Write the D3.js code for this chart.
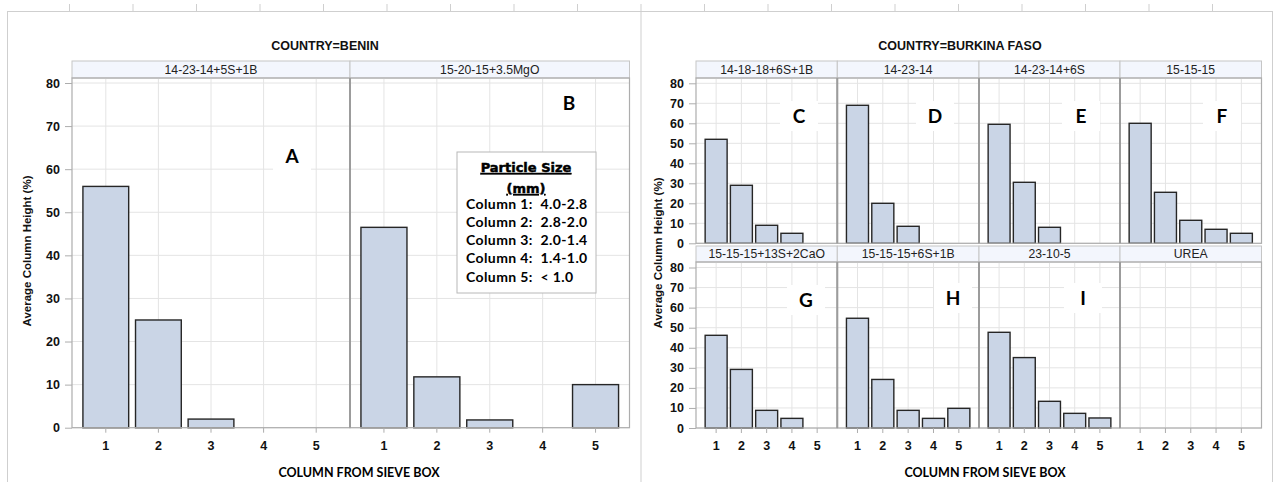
<!DOCTYPE html>
<html>
<head>
<meta charset="utf-8">
<script src="https://cdn.jsdelivr.net/npm/d3@7"></script>
<style>
  html, body { margin: 0; padding: 0; background: #ffffff; }
  svg { display: block; }
  .sas { font-family: "Liberation Sans", Arial, sans-serif; }
  .cal { font-family: Lato, "Open Sans", sans-serif; }
</style>
</head>
<body>
<svg id="chart" width="1274" height="482"></svg>
<script>
// Sieve-box columns (x categories) and the y ticks shared by all facets
const columns = ["1", "2", "3", "4", "5"];
const yTicks = [0, 10, 20, 30, 40, 50, 60, 70, 80];

// Benin: formulations and average column height (%) per sieve column
const beninFormulas = ["14-23-14+5S+1B", "15-20-15+3.5MgO"];
const beninLetters = ["A", "B"];
const beninValues = [
  [56, 25, 2, null, null],
  [46.5, 11.8, 1.8, null, 10]
];

// Burkina Faso: formulations and average column height (%) per sieve column
const burkinaFormulas = ["14-18-18+6S+1B", "14-23-14", "14-23-14+6S", "15-15-15",
                         "15-15-15+13S+2CaO", "15-15-15+6S+1B", "23-10-5", "UREA"];
const burkinaLetters = ["C", "D", "E", "F", "G", "H", "I", ""];
const burkinaValues = [
  [52, 29, 9, 5, null],
  [69, 20, 8.5, null, null],
  [59.5, 30.5, 8, null, null],
  [60, 25.5, 11.5, 7, 5],
  [46.2, 29.2, 8.8, 4.8, null],
  [54.7, 24.2, 8.8, 4.8, 9.8],
  [47.7, 35.1, 13.3, 7.3, 5],
  [null, null, null, null, null]
];

// Particle size key
const legendTitle = ["Particle Size", "(mm)"];
const legendLines = ["Column 1:  4.0-2.8", "Column 2:  2.8-2.0", "Column 3:  2.0-1.4",
                     "Column 4:  1.4-1.0", "Column 5:  < 1.0"];

const svg = d3.select("#chart");

const C = {
  bar: "#cad5e6",
  barStroke: "#262626",
  grid: "#e4e4e4",
  frame: "#adadad",
  divider: "#9c9c9c",
  headFill: "#f3f6fd",
  headStroke: "#c6c6c6",
  page: "#cfcfcf",
  text: "#111111"
};

// ---- page frame: ruler line, ticks and the two panel boxes ----
svg.append("line").attr("x1", 7).attr("x2", 1273).attr("y1", 11.5).attr("y2", 11.5)
  .attr("stroke", C.page).attr("stroke-width", 1);
for (let k = 0; k <= 18; k++) {
  const xx = 69.5 + k * 63.5;
  svg.append("line").attr("x1", xx).attr("x2", xx).attr("y1", 4).attr("y2", 11)
    .attr("stroke", C.page).attr("stroke-width", 1);
}
[7.5, 641, 1272.5].forEach(xx => {
  svg.append("line").attr("x1", xx).attr("x2", xx).attr("y1", 11.5).attr("y2", 482)
    .attr("stroke", C.page).attr("stroke-width", 1);
});

// ---- one facet cell ----
function drawFacet(f) {
  const g = svg.append("g");
  const x = d3.scaleBand().domain(columns)
    .range([f.x0 + 7.5, f.x1 - 7.5]).paddingInner(0.13).paddingOuter(0.065);
  const y = d3.scaleLinear().domain([0, 80]).range([f.zero, f.y80]);

  // header strip
  g.append("rect").attr("x", f.x0).attr("y", f.hTop)
    .attr("width", f.x1 - f.x0).attr("height", f.top - f.hTop)
    .attr("fill", C.headFill).attr("stroke", C.headStroke).attr("stroke-width", 1);
  g.append("text").attr("class", "sas")
    .attr("x", (f.x0 + f.x1) / 2).attr("y", (f.hTop + f.top) / 2 + 4.3)
    .attr("text-anchor", "middle").attr("font-size", 12.2).attr("fill", "#222")
    .text(f.name);

  // grid
  g.append("g").selectAll("line.h").data(yTicks).join("line")
    .attr("x1", f.x0).attr("x2", f.x1)
    .attr("y1", d => y(d)).attr("y2", d => y(d))
    .attr("stroke", C.grid).attr("stroke-width", 1);
  g.append("g").selectAll("line.v").data(columns).join("line")
    .attr("x1", d => x(d) + x.bandwidth() / 2).attr("x2", d => x(d) + x.bandwidth() / 2)
    .attr("y1", f.top).attr("y2", f.zero)
    .attr("stroke", C.grid).attr("stroke-width", 1);

  // panel letter with its white backing
  if (f.letter) {
    g.append("rect").attr("x", f.lx - 19).attr("y", f.ly - 15).attr("width", 38).attr("height", 30)
      .attr("fill", "#ffffff");
    g.append("text").attr("class", "cal")
      .attr("x", f.lx).attr("y", f.ly + 7)
      .attr("text-anchor", "middle")
      .attr("font-size", 19).attr("font-weight", 700).attr("fill", "#000")
      .text(f.letter);
  }

  // bars
  const data = columns.map((c, i) => ({ c, v: f.values[i] })).filter(d => d.v != null);
  g.append("g").selectAll("rect").data(data).join("rect")
    .attr("x", d => x(d.c)).attr("width", x.bandwidth())
    .attr("y", d => y(d.v)).attr("height", d => y(0) - y(d.v))
    .attr("fill", C.bar).attr("stroke", C.barStroke).attr("stroke-width", 1.4);

  // plot frame
  g.append("rect").attr("x", f.x0).attr("y", f.top)
    .attr("width", f.x1 - f.x0).attr("height", f.zero - f.top)
    .attr("fill", "none").attr("stroke", C.frame).attr("stroke-width", 1.2);

  // y axis on the first column of facets
  if (f.showY) {
    const ya = g.append("g").attr("transform", `translate(${f.x0},0)`)
      .call(d3.axisLeft(y).tickValues(yTicks).tickSize(7).tickPadding(5));
    ya.attr("font-family", null).attr("font-size", null);
    ya.select(".domain").remove();
    ya.selectAll("line").attr("stroke", C.frame);
    ya.selectAll("text").attr("class", "sas").attr("font-size", 12.5)
      .attr("font-weight", 700).attr("fill", C.text);
  }
  // x axis on the bottom row of facets
  if (f.showX) {
    const xa = g.append("g").attr("transform", `translate(0,${f.zero})`)
      .call(d3.axisBottom(x).tickSize(5).tickPadding(8));
    xa.attr("font-family", null).attr("font-size", null);
    xa.select(".domain").remove();
    xa.selectAll("line").attr("stroke", C.frame);
    xa.selectAll("text").attr("class", "sas").attr("font-size", 12.5)
      .attr("font-weight", 700).attr("fill", C.text);
  }
  return f;
}

function dividers(xs, yTop, yBot) {
  xs.forEach(xx => svg.append("line").attr("x1", xx).attr("x2", xx)
    .attr("y1", yTop).attr("y2", yBot).attr("stroke", C.divider).attr("stroke-width", 2));
}

// ---- Benin panel ----
const bx = [72, 350, 629.5];
const beninLetterPos = [[292, 156], [569, 103]];
beninFormulas.forEach((name, i) => drawFacet({
  x0: bx[i], x1: bx[i + 1], hTop: 61, top: 78, zero: 427.7, y80: 83,
  name, values: beninValues[i], letter: beninLetters[i],
  lx: beninLetterPos[i][0], ly: beninLetterPos[i][1],
  showY: i === 0, showX: true
}));
dividers([350], 78, 427.7);

svg.append("text").attr("class", "sas").attr("x", 325).attr("y", 50)
  .attr("text-anchor", "middle").attr("font-size", 12.5).attr("font-weight", 700)
  .attr("fill", C.text).text("COUNTRY=BENIN");
svg.append("text").attr("class", "sas")
  .attr("transform", "translate(31,251) rotate(-90)")
  .attr("text-anchor", "middle").attr("font-size", 11.5).attr("font-weight", 700)
  .attr("fill", C.text).text("Average Column Height (%)");
svg.append("text").attr("class", "cal").attr("x", 359).attr("y", 477)
  .attr("text-anchor", "middle").attr("font-size", 12.5).attr("font-weight", 700)
  .attr("fill", "#000").text("COLUMN FROM SIEVE BOX");

// particle size key
const key = svg.append("g");
key.append("rect").attr("x", 457).attr("y", 152).attr("width", 139).attr("height", 141)
  .attr("fill", "#ffffff").attr("stroke", "#b8b8b8").attr("stroke-width", 1);
legendTitle.forEach((t, i) => {
  key.append("text").attr("x", 526).attr("y", 172 + i * 21)
    .attr("text-anchor", "middle")
    .attr("font-family", "\"DejaVu Sans\", sans-serif")
    .attr("font-size", 13).attr("font-weight", 900)
    .attr("stroke", "#000").attr("stroke-width", 0.5)
    .attr("text-decoration", "underline").attr("fill", "#000").text(t);
});
legendLines.forEach((t, i) => {
  key.append("text").attr("class", "cal").attr("x", 466).attr("y", 208.5 + i * 18.3)
    .attr("font-size", 14).attr("font-weight", 700).attr("letter-spacing", 0.4)
    .attr("fill", "#000").style("white-space", "pre").text(t);
});

// ---- Burkina Faso panel ----
const fx = [696, 837.3, 979, 1120, 1261.5];
const rows = [
  { hTop: 61, top: 78, zero: 243.3, y80: 83.3 },
  { hTop: 246, top: 262, zero: 428, y80: 267.5 }
];
const burkinaLetterPos = [[799, 116], [935, 116], [1081, 116], [1222, 116],
                          [806, 300], [953, 298], [1083, 298], [0, 0]];
burkinaFormulas.forEach((name, i) => {
  const r = rows[Math.floor(i / 4)], c = i % 4;
  drawFacet({
    x0: fx[c], x1: fx[c + 1], hTop: r.hTop, top: r.top, zero: r.zero, y80: r.y80,
    name, values: burkinaValues[i], letter: burkinaLetters[i],
    lx: burkinaLetterPos[i][0], ly: burkinaLetterPos[i][1],
    showY: c === 0, showX: i >= 4
  });
});
rows.forEach(r => dividers(fx.slice(1, 4), r.top, r.zero));

svg.append("text").attr("class", "sas").attr("x", 960).attr("y", 50)
  .attr("text-anchor", "middle").attr("font-size", 12.5).attr("font-weight", 700)
  .attr("fill", C.text).text("COUNTRY=BURKINA FASO");
svg.append("text").attr("class", "sas")
  .attr("transform", "translate(662,253) rotate(-90)")
  .attr("text-anchor", "middle").attr("font-size", 11.5).attr("font-weight", 700)
  .attr("fill", C.text).text("Average Column Height (%)");
svg.append("text").attr("class", "cal").attr("x", 985).attr("y", 477)
  .attr("text-anchor", "middle").attr("font-size", 12.5).attr("font-weight", 700)
  .attr("fill", "#000").text("COLUMN FROM SIEVE BOX");
</script>
</body>
</html>
